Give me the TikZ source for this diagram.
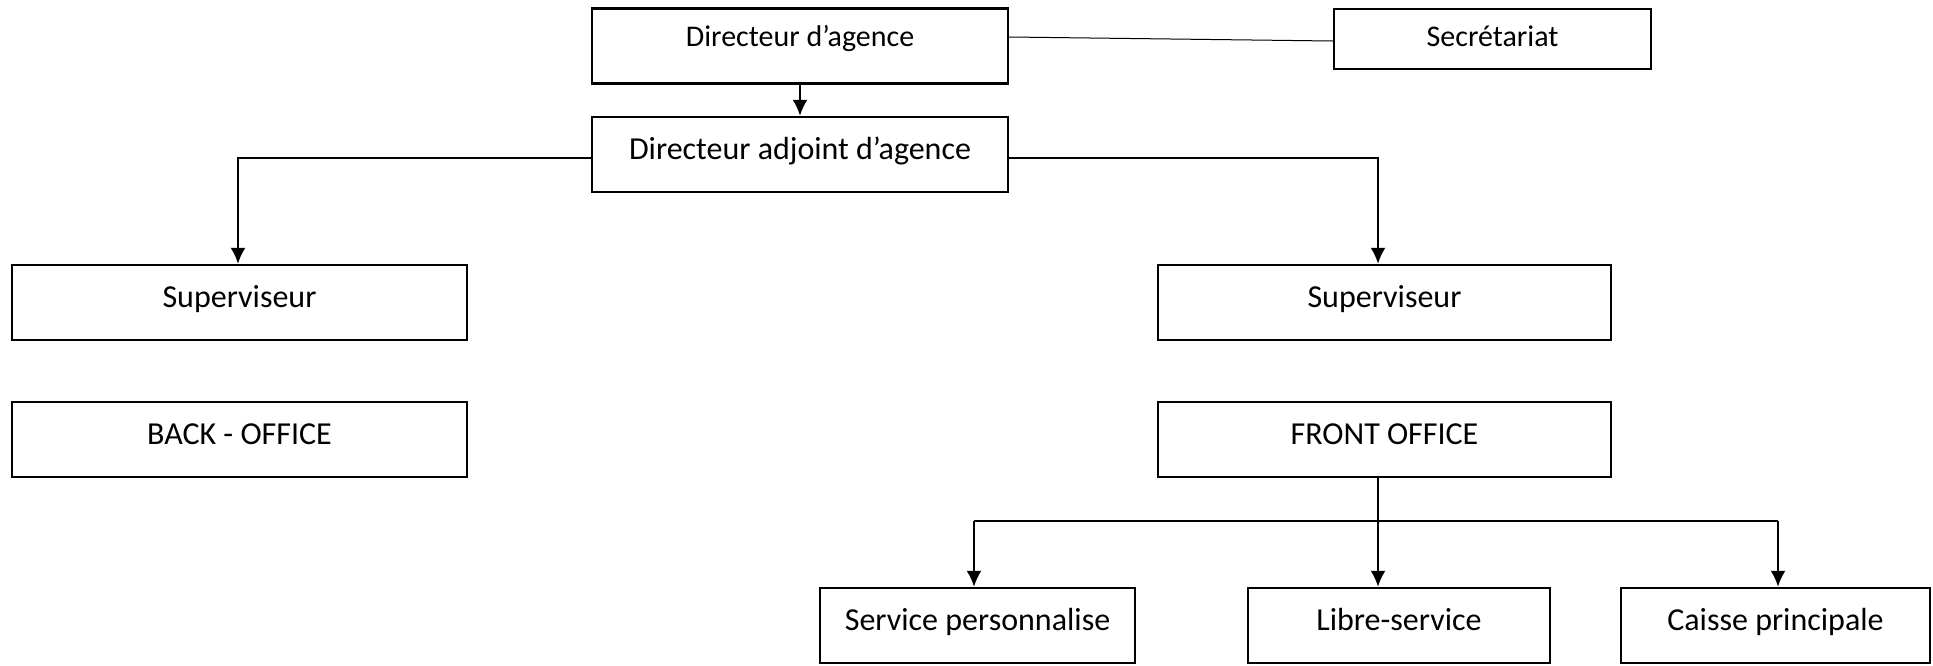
\documentclass[tikz,border=0pt]{standalone}
\usepackage{fontspec}
\setmainfont{Carlito}
\usetikzlibrary{arrows.meta}
\begin{document}
\begin{tikzpicture}[x=0.5pt,y=-0.5pt,
  unit/.style={draw,line width=1.2pt,inner sep=0pt,minimum height=37.5pt,
    font=\fontsize{16}{18}\selectfont,text height=11pt,text depth=5.8pt},
  smallunit/.style={unit,font=\fontsize{15}{16}\selectfont,text depth=10.2pt},
  link/.style={line width=1.1pt},
  arrowlink/.style={line width=1.1pt,-{Latex[length=8pt,width=7.5pt]}}]
\useasboundingbox (0,0) rectangle (1933,665);
\node[smallunit,minimum width=208pt] (dir) at (800,46) {Directeur d’agence};
\node[smallunit,minimum width=158.5pt,minimum height=30pt,text depth=3.3pt] (sec) at (1492.5,39) {Secrétariat};
\node[unit,minimum width=208pt] (adj) at (800,154.5) {Directeur adjoint d’agence};
\node[unit,minimum width=227.5pt] (supL) at (239.5,302.5) {Superviseur};
\node[unit,minimum width=226.5pt] (supR) at (1384.5,302.5) {Superviseur};
\node[unit,minimum width=227.5pt] (back) at (239.5,439.5) {BACK - OFFICE};
\node[unit,minimum width=226.5pt] (front) at (1384.5,439.5) {FRONT OFFICE};
\node[unit,minimum width=157.5pt] (serv) at (977.5,625.5) {Service personnalise};
\node[unit,minimum width=151pt] (libre) at (1399,625.5) {Libre-service};
\node[unit,minimum width=154.5pt] (caisse) at (1775.5,625.5) {Caisse principale};
\coordinate (bar) at (1378,521);
\draw[line width=0.5pt] ([yshift=4.5pt]dir.east) -- ([yshift=-1pt]sec.west);
\draw[arrowlink] (dir.south) -- (adj.north);
\draw[arrowlink] ([yshift=-1.75pt]adj.west) -| ([xshift=-0.75pt]supL.north);
\draw[arrowlink] ([yshift=-1.75pt]adj.east) -| ([xshift=-3.25pt]supR.north);
\draw[arrowlink] ([xshift=-3.25pt]front.south) -- (bar |- libre.north);
\draw[link] ([xshift=-1.75pt]bar -| serv.north) -- ([xshift=1.25pt]bar -| caisse.north);
\draw[arrowlink] ([xshift=-1.75pt]bar -| serv.north) -- ([xshift=-1.75pt]serv.north);
\draw[arrowlink] ([xshift=1.25pt]bar -| caisse.north) -- ([xshift=1.25pt]caisse.north);
\end{tikzpicture}
\end{document}
